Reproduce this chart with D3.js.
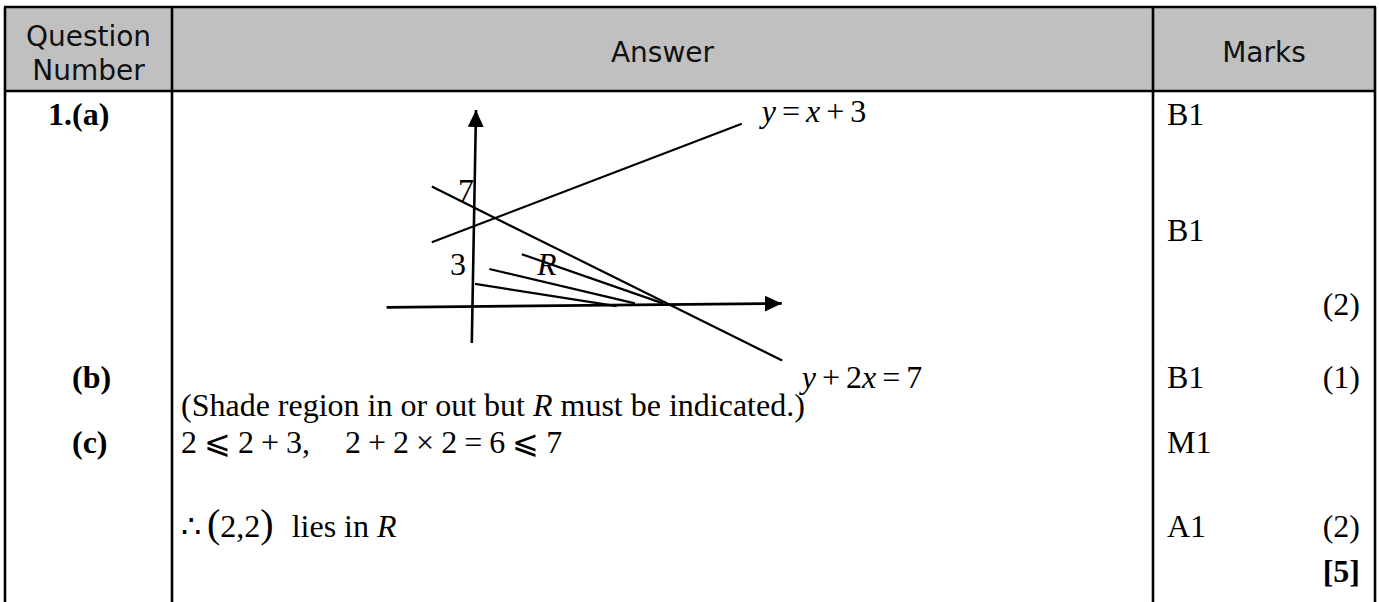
<!DOCTYPE html>
<html><head><meta charset="utf-8">
<style>
    body {
        margin: 0;
        background: #fff;
    }
    svg {
        display: block;
    }
    .hdr {
        font-family: "DejaVu Sans", Verdana, sans-serif;
        font-size: 28px;
        fill: #111;
    }
    .tnr {
        font-family: "Liberation Serif", "Times New Roman", "DejaVu Serif", serif;
        font-size: 32px;
        fill: #000;
    }
</style>
</head>
<body>
<svg id="Sheet"></svg>
<script src="https://d3js.org/d3.v7.min.js"></script>
<script>
let columnTitles = [["Question", "Number"], ["Answer"], ["Marks"]];
let rowKeys = ["a", "a2", "a3", "b", "note", "c", "c2", "total"];

let questionParts = [
    {row: "a", num: "1.", part: "(a)"},
    {row: "b", num: "", part: "(b)"},
    {row: "c", num: "", part: "(c)"}
];
let markCodes = [
    {row: "a", code: "B1"},
    {row: "a2", code: "B1"},
    {row: "b", code: "B1"},
    {row: "c", code: "M1"},
    {row: "c2", code: "A1"}
];
let markCounts = [
    {row: "a3", text: "(2)"},
    {row: "b", text: "(1)"},
    {row: "c2", text: "(2)"},
    {row: "total", text: "[5]"}
];
let answerLines = [
    {row: "note", kind: "prose", text: "(Shade region in or out but R must be indicated.)"},
    {row: "c", kind: "math", text: "2 ⩽ 2 + 3,     2 + 2 × 2 = 6 ⩽ 7"},
    {row: "c2", kind: "conclusion", text: "∴ (2,2) lies in R"}
];

// sketch for part (a), in sketch units (origin where the axes cross)
let sketchAxes = [
    {name: "x", from: [-2.16, -0.06], to: [7.72, 0.04]},
    {name: "y", from: [-0.03, -0.95], to: [0.075, 4.875]}
];
let boundaryLines = [
    {label: "y = x + 3", from: [-1.03, 1.57], to: [6.72, 4.53], labelAt: [7.22, 4.58]},
    {label: "y + 2x = 7", from: [-1.03, 2.96], to: [7.73, -1.39], labelAt: [8.22, -2.08]}
];
let shadingLines = [
    {from: [1.22, 1.27], to: [4.75, 0.04]},
    {from: [0.41, 0.90], to: [4.05, 0.04]},
    {from: [0.05, 0.53], to: [3.59, -0.03]}
];
let sketchLabels = [
    {text: "7", at: [-0.375, 2.6]},
    {text: "3", at: [-0.575, 0.75]},
    {text: "R", at: [1.6, 0.75]}
];

// ---------- layout ----------
function getConfig() {
    let width = 1379;
    let height = 602;
    let colEdges = [5, 172, 1153, 1375];
    let top = 7;
    let headBottom = 91;
    let container = d3.select("#Sheet")
        .attr("width", width)
        .attr("height", height);
    return {width, height, colEdges, top, headBottom, container};
}

function getScales(config) {
    let rowY = d3.scaleOrdinal()
        .domain(rowKeys)
        .range([125, 241, 315, 388, 416, 453, 537, 582]);
    // sketch units -> pixels
    let sx = d3.scaleLinear().domain([0, 1]).range([473, 513]);
    let sy = d3.scaleLinear().domain([0, 1]).range([305, 265]);
    return {rowY, sx, sy};
}

function drawTable(config) {
    let {container, colEdges, top, headBottom, height} = config;
    let g = container.append("g");

    g.append("rect")
        .attr("x", colEdges[0])
        .attr("y", top)
        .attr("width", colEdges[3] - colEdges[0])
        .attr("height", headBottom - top)
        .attr("fill", "#c0c0c0");

    [top, headBottom].forEach(y => {
        g.append("line")
            .attr("x1", colEdges[0] - 1).attr("x2", colEdges[3] + 1)
            .attr("y1", y).attr("y2", y)
            .attr("stroke", "#000").attr("stroke-width", 2.6);
    });
    colEdges.forEach(x => {
        g.append("line")
            .attr("x1", x).attr("x2", x)
            .attr("y1", top).attr("y2", height)
            .attr("stroke", "#000").attr("stroke-width", 2.6);
    });

    columnTitles.forEach((lines, i) => {
        let cx = (colEdges[i] + colEdges[i + 1]) / 2;
        let baselines = lines.length == 2 ? [46, 80] : [62];
        lines.forEach((t, j) => {
            g.append("text")
                .attr("class", "hdr")
                .attr("x", cx)
                .attr("y", baselines[j])
                .attr("text-anchor", "middle")
                .text(t);
        });
    });
}

// write a spaced string as math: letters italic, gaps between tokens
function mathText(sel, str, gap) {
    let pending = 0;
    str.split(" ").forEach((tok, i) => {
        if (i > 0) pending += gap;
        if (tok === "") return;
        tok.split("").forEach((ch, k) => {
            let t = sel.append("tspan").text(ch);
            if (/[a-zA-Z]/.test(ch)) t.attr("font-style", "italic");
            if (k == 0 && pending) t.attr("dx", pending);
        });
        pending = 0;
    });
}

function proseText(sel, str, lead) {
    str.split(" ").forEach((w, i) => {
        let t = sel.append("tspan").text((i > 0 ? " " : "") + w);
        if (w === "R") t.attr("font-style", "italic");
        if (i == 0 && lead) t.attr("dx", lead);
    });
}

function drawParts(config, scales) {
    let {container} = config;
    let {rowY} = scales;
    let g = container.append("g").attr("class", "tnr").attr("font-weight", "bold");

    g.selectAll(".num").data(questionParts.filter(d => d.num)).enter()
        .append("text")
        .attr("x", 72).attr("y", d => rowY(d.row))
        .attr("text-anchor", "end")
        .text(d => d.num);
    g.selectAll(".part").data(questionParts).enter()
        .append("text")
        .attr("x", 72).attr("y", d => rowY(d.row))
        .text(d => d.part);
}

function drawMarks(config, scales) {
    let {container} = config;
    let {rowY} = scales;
    let g = container.append("g").attr("class", "tnr");

    g.selectAll(".code").data(markCodes).enter()
        .append("text")
        .attr("x", 1167).attr("y", d => rowY(d.row))
        .text(d => d.code);
    g.selectAll(".count").data(markCounts).enter()
        .append("text")
        .attr("x", 1360).attr("y", d => rowY(d.row))
        .attr("text-anchor", "end")
        .attr("font-weight", d => d.text[0] == "[" ? "bold" : "normal")
        .text(d => d.text);
}

function drawAnswers(config, scales) {
    let {container} = config;
    let {rowY} = scales;
    let g = container.append("g").attr("class", "tnr");

    answerLines.forEach(d => {
        let t = g.append("text").attr("x", 181).attr("y", rowY(d.row));
        if (d.kind == "prose") {
            proseText(t, d.text);
        } else if (d.kind == "math") {
            mathText(t, d.text, 7);
        } else {
            let parts = d.text.split(" ");
            t.append("tspan").text(parts[0]);
            let inner = parts[1].slice(1, -1);
            t.append("tspan").attr("dx", 6).attr("font-size", 40).text("(");
            t.append("tspan").text(inner);
            t.append("tspan").attr("font-size", 40).text(")");
            proseText(t, parts.slice(2).join(" "), 18);
        }
    });
}

function drawSketch(config, scales) {
    let {container} = config;
    let {sx, sy} = scales;
    let g = container.append("g");

    container.append("defs").append("marker")
        .attr("id", "arrow")
        .attr("markerUnits", "userSpaceOnUse")
        .attr("markerWidth", 18).attr("markerHeight", 16)
        .attr("refX", 17).attr("refY", 8)
        .attr("orient", "auto")
        .append("path")
        .attr("d", "M0,0 L17,8 L0,16 Z")
        .attr("fill", "#000");

    g.selectAll(".axis").data(sketchAxes).enter()
        .append("line")
        .attr("x1", d => sx(d.from[0])).attr("y1", d => sy(d.from[1]))
        .attr("x2", d => sx(d.to[0])).attr("y2", d => sy(d.to[1]))
        .attr("stroke", "#000").attr("stroke-width", 2.6)
        .attr("marker-end", "url(#arrow)");

    g.selectAll(".edge").data(boundaryLines.concat(shadingLines)).enter()
        .append("line")
        .attr("x1", d => sx(d.from[0])).attr("y1", d => sy(d.from[1]))
        .attr("x2", d => sx(d.to[0])).attr("y2", d => sy(d.to[1]))
        .attr("stroke", "#000").attr("stroke-width", 2.2);

    let lab = g.append("g").attr("class", "tnr");
    sketchLabels.forEach(d => {
        let t = lab.append("text").attr("x", sx(d.at[0])).attr("y", sy(d.at[1])).text(d.text);
        if (/[A-Z]/.test(d.text)) t.attr("font-style", "italic");
    });
    boundaryLines.forEach(d => {
        let t = lab.append("text").attr("x", sx(d.labelAt[0])).attr("y", sy(d.labelAt[1]));
        mathText(t, d.label, 6);
    });
}

function showSheet() {
    let config = getConfig();
    let scales = getScales(config);
    drawTable(config);
    drawSketch(config, scales);
    drawParts(config, scales);
    drawAnswers(config, scales);
    drawMarks(config, scales);
}

showSheet();
</script>
</body></html>
